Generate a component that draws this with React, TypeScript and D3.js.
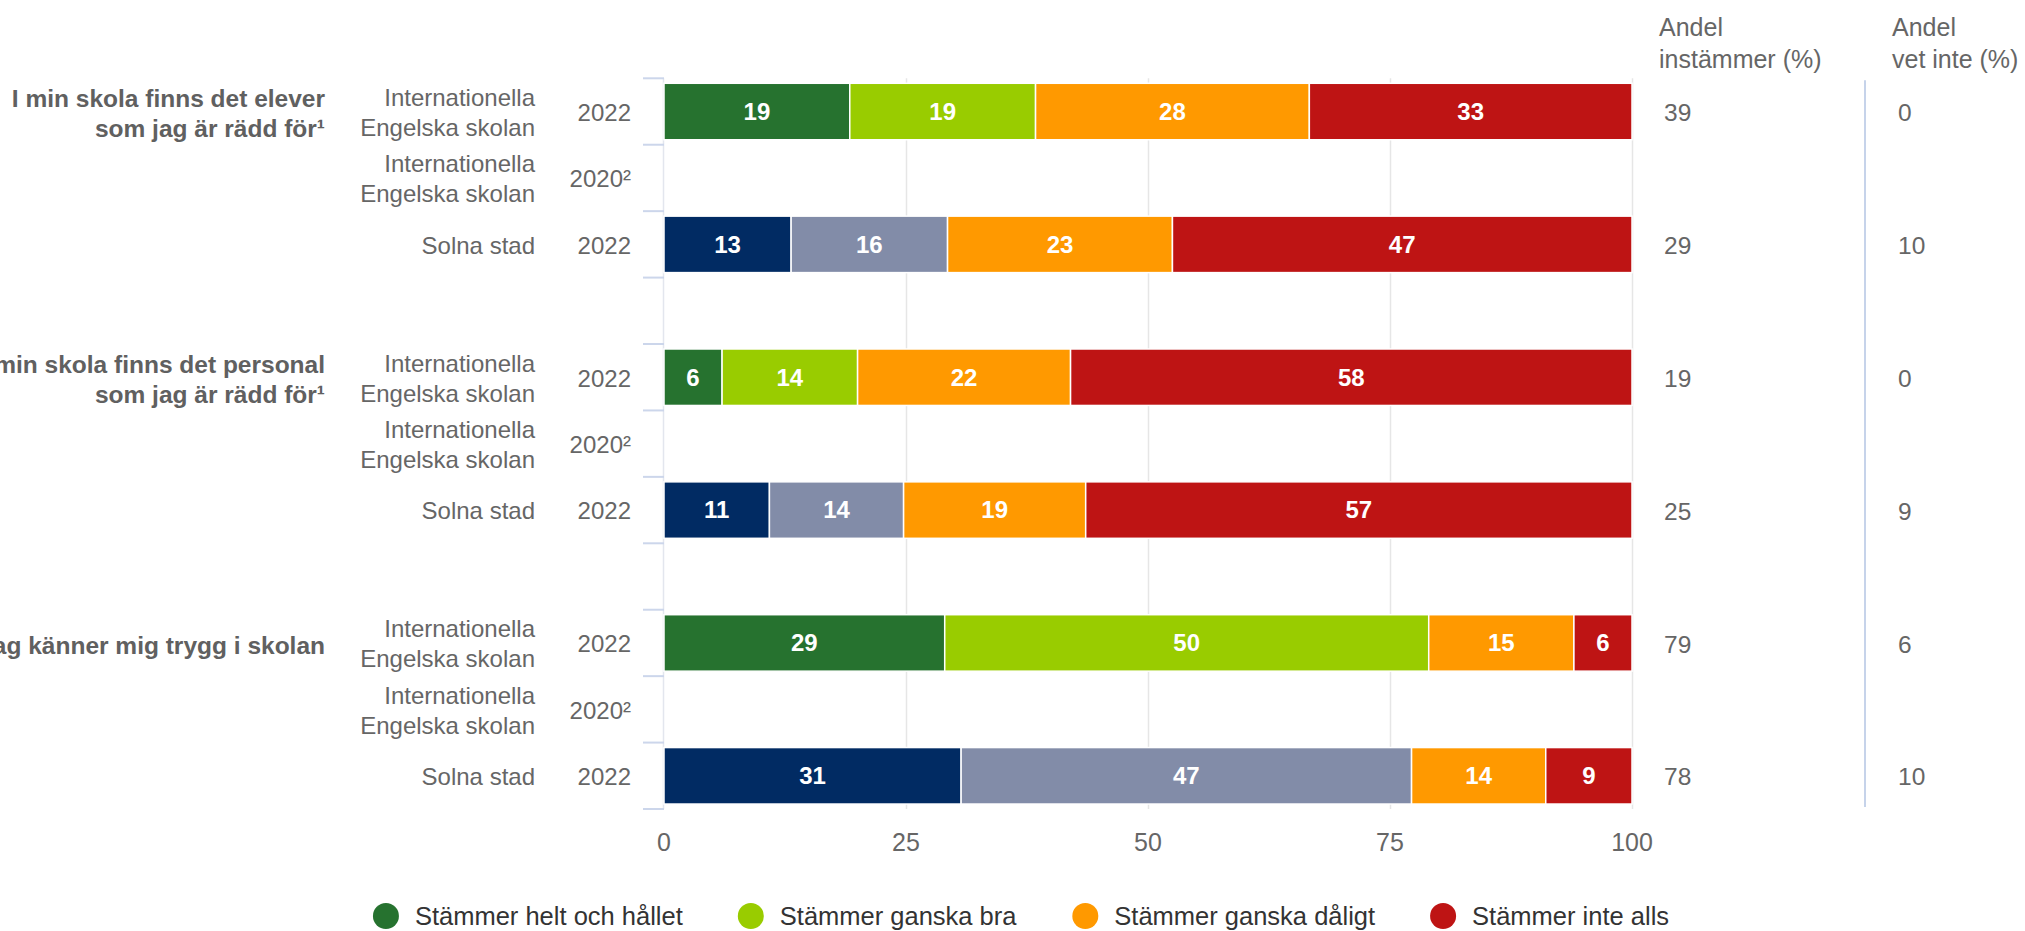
import React, { useEffect, useRef } from 'react';
import * as d3 from 'd3';

const W = 2025;
const H = 931;
const FONT = '"Liberation Sans", Arial, Helvetica, sans-serif';

// ---- data ----
const groupLabels: string[][] = [
  ['I min skola finns det elever', 'som jag är rädd för¹'],
  ['I min skola finns det personal', 'som jag är rädd för¹'],
  ['Jag känner mig trygg i skolan'],
];
const schoolLabels: string[][] = [
  ['Internationella', 'Engelska skolan'],
  ['Internationella', 'Engelska skolan'],
  ['Solna stad'],
];
const yearLabels = ['2022', '2020²', '2022'];
const isSolna = [false, false, true];

const seriesNames = [
  'Stämmer helt och hållet',
  'Stämmer ganska bra',
  'Stämmer ganska dåligt',
  'Stämmer inte alls',
];
const seriesColors = ['#26722F', '#99CC00', '#FF9900', '#BE1414'];
const solnaColors = ['#012B63', '#828CA8'];

// 9 rows: 3 groups x (IES 2022, IES 2020, Solna 2022)
const stammerHelt = [19, null, 13, 6, null, 11, 29, null, 31];
const stammerBra = [19, null, 16, 14, null, 14, 50, null, 47];
const stammerDaligt = [28, null, 23, 22, null, 19, 15, null, 14];
const stammerInte = [33, null, 47, 58, null, 57, 6, null, 9];
const andelInstammer = [39, null, 29, 19, null, 25, 79, null, 78];
const andelVetInte = [0, null, 10, 0, null, 9, 6, null, 10];

const xTicks = [0, 25, 50, 75, 100];
const headers = [
  ['Andel', 'instämmer (%)'],
  ['Andel', 'vet inte (%)'],
];

export default function App() {
  const ref = useRef<SVGSVGElement>(null);

  useEffect(() => {
    const svg = d3.select(ref.current);
    svg.selectAll('*').remove();

    const x0 = 664;
    const x1 = 1632;
    const yTop = 78.3;
    const yBot = 809;

    type Row = {
      key: string;
      group: number;
      sub: number;
      values: (number | null)[];
      andel: number | null;
      vet: number | null;
    };
    const rows: Row[] = [];
    const rowKeys: string[] = [];
    const allSeries = [stammerHelt, stammerBra, stammerDaligt, stammerInte];
    groupLabels.forEach((_, g) => {
      for (let s = 0; s < 3; s++) {
        const i = g * 3 + s;
        const key = `r${g}-${s}`;
        rows.push({
          key,
          group: g,
          sub: s,
          values: allSeries.map((a) => a[i]),
          andel: andelInstammer[i],
          vet: andelVetInte[i],
        });
        rowKeys.push(key);
      }
      if (g < groupLabels.length - 1) rowKeys.push(`gap${g}`);
    });

    const y = d3.scaleBand<string>().domain(rowKeys).range([yTop, yBot]).padding(0);
    const bw = y.bandwidth();
    const x = d3.scaleLinear().domain([0, 1]).range([x0, x1]);
    const xPct = d3.scaleLinear().domain([0, 100]).range([x0, x1]);

    // gridlines
    svg
      .append('g')
      .selectAll('line')
      .data(xTicks.filter((t) => t > 0))
      .join('line')
      .attr('x1', (d) => xPct(d) + 0.5)
      .attr('x2', (d) => xPct(d) + 0.5)
      .attr('y1', yTop)
      .attr('y2', yBot)
      .attr('stroke', '#e6e6e6')
      .attr('stroke-width', 1.5);

    // left axis line
    svg
      .append('line')
      .attr('x1', x0 - 0.5)
      .attr('x2', x0 - 0.5)
      .attr('y1', yTop)
      .attr('y2', yBot)
      .attr('stroke', '#e3e6ee')
      .attr('stroke-width', 1.5);

    // left ticks at band boundaries
    const boundaries = rowKeys.map((k) => y(k) as number).concat([yBot]);
    svg
      .append('g')
      .selectAll('line')
      .data(boundaries)
      .join('line')
      .attr('x1', x0 - 21)
      .attr('x2', x0)
      .attr('y1', (d) => d)
      .attr('y2', (d) => d)
      .attr('stroke', '#ccd6eb')
      .attr('stroke-width', 2);

    // right separator
    svg
      .append('line')
      .attr('x1', 1865)
      .attr('x2', 1865)
      .attr('y1', yTop + 2)
      .attr('y2', yBot - 2)
      .attr('stroke', '#c6d3ea')
      .attr('stroke-width', 2);

    // stacked bars
    const dataRows = rows.filter((r) => r.values.every((v) => v != null));
    const stack = d3
      .stack<Row, number>()
      .keys([0, 1, 2, 3])
      .value((d, k) => d.values[k] as number)
      .offset(d3.stackOffsetExpand);
    const stacked = stack(dataRows);

    const barPad = bw * 0.075;
    const barH = bw - 2 * barPad;

    stacked.forEach((layer, si) => {
      const g = svg.append('g');
      layer.forEach((seg) => {
        const r = seg.data;
        const color =
          si < 2 && isSolna[r.sub] ? solnaColors[si] : seriesColors[si];
        const yy = (y(r.key) as number) + barPad;
        g.append('rect')
          .attr('x', x(seg[0]))
          .attr('y', yy)
          .attr('width', Math.max(0, x(seg[1]) - x(seg[0])))
          .attr('height', barH)
          .attr('fill', color)
          .attr('stroke', '#ffffff')
          .attr('stroke-width', 1.5);
        g.append('text')
          .attr('x', (x(seg[0]) + x(seg[1])) / 2)
          .attr('y', yy + barH / 2)
          .attr('dy', '0.35em')
          .attr('text-anchor', 'middle')
          .attr('font-family', FONT)
          .attr('font-weight', 'bold')
          .attr('font-size', 24)
          .attr('fill', '#ffffff')
          .text(String(r.values[si]));
      });
    });

    // category labels
    const lineH = 30;
    rows.forEach((r) => {
      const cy = (y(r.key) as number) + bw / 2 + 1;
      const lines = schoolLabels[r.sub];
      lines.forEach((ln, li) => {
        svg
          .append('text')
          .attr('x', 535)
          .attr('y', cy + (li - (lines.length - 1) / 2) * lineH)
          .attr('dy', '0.35em')
          .attr('text-anchor', 'end')
          .attr('font-family', FONT)
          .attr('font-size', 24)
          .attr('fill', '#666666')
          .text(ln);
      });
      svg
        .append('text')
        .attr('x', 631)
        .attr('y', cy)
        .attr('dy', '0.35em')
        .attr('text-anchor', 'end')
        .attr('font-family', FONT)
        .attr('font-size', 24)
        .attr('fill', '#666666')
        .text(yearLabels[r.sub]);

      if (r.andel != null) {
        svg
          .append('text')
          .attr('x', 1664)
          .attr('y', cy)
          .attr('dy', '0.35em')
          .attr('font-family', FONT)
          .attr('font-size', 24.5)
          .attr('fill', '#666666')
          .text(String(r.andel));
      }
      if (r.vet != null) {
        svg
          .append('text')
          .attr('x', 1898)
          .attr('y', cy)
          .attr('dy', '0.35em')
          .attr('font-family', FONT)
          .attr('font-size', 24.5)
          .attr('fill', '#666666')
          .text(String(r.vet));
      }
    });

    // group labels (the reference lets long ones run past the left edge)
    groupLabels.forEach((lines, g) => {
      const cy = (y(`r${g}-0`) as number) + bw / 2 + 2;
      lines.forEach((ln, li) => {
        svg
          .append('text')
          .attr('x', 325)
          .attr('y', cy + (li - (lines.length - 1) / 2) * lineH)
          .attr('dy', '0.35em')
          .attr('text-anchor', 'end')
          .attr('font-family', FONT)
          .attr('font-weight', 'bold')
          .attr('font-size', 24.5)
          .attr('fill', '#606060')
          .text(ln);
      });
    });

    // headers
    const headerX = [1659, 1892];
    headers.forEach((lines, hi) => {
      lines.forEach((ln, li) => {
        svg
          .append('text')
          .attr('x', headerX[hi])
          .attr('y', 36 + li * 32)
          .attr('font-family', FONT)
          .attr('font-size', 25)
          .attr('fill', '#666666')
          .text(ln);
      });
    });

    // x-axis labels
    svg
      .append('g')
      .selectAll('text')
      .data(xTicks)
      .join('text')
      .attr('x', (d) => xPct(d))
      .attr('y', 842)
      .attr('dy', '0.35em')
      .attr('text-anchor', 'middle')
      .attr('font-family', FONT)
      .attr('font-size', 25)
      .attr('fill', '#666666')
      .text((d) => String(d));

    // legend
    const legY = 916;
    const rad = 13;
    const textOff = 29;
    const gap = 55;
    const leg = svg.append('g');
    const items = seriesNames.map((name, i) => {
      const gi = leg.append('g');
      gi.append('circle').attr('r', rad).attr('cx', 0).attr('cy', legY).attr('fill', seriesColors[i]);
      const t = gi
        .append('text')
        .attr('x', textOff)
        .attr('y', legY)
        .attr('dy', '0.35em')
        .attr('font-family', FONT)
        .attr('font-size', 25.5)
        .attr('fill', '#333333')
        .text(name);
      return { gi, t };
    });
    const layoutLegend = () => {
      const widths = items.map((it) => (it.t.node() as SVGTextElement).getBBox().width);
      const totalW =
        widths.reduce((s, w) => s + rad + textOff + w, 0) + gap * (items.length - 1);
      let cx = 1021 - totalW / 2 + rad;
      items.forEach((it, i) => {
        it.gi.attr('transform', `translate(${cx},0)`);
        cx += textOff + widths[i] + gap + rad;
      });
    };
    layoutLegend();
    if ((document as any).fonts && (document as any).fonts.ready) {
      (document as any).fonts.ready.then(layoutLegend);
    }
    const tid = window.setTimeout(layoutLegend, 300);
    return () => window.clearTimeout(tid);
  }, []);

  return (
    <svg
      ref={ref}
      width={W}
      height={H}
      style={{ position: 'absolute', left: 0, top: 0, display: 'block', background: '#ffffff' }}
    />
  );
}
